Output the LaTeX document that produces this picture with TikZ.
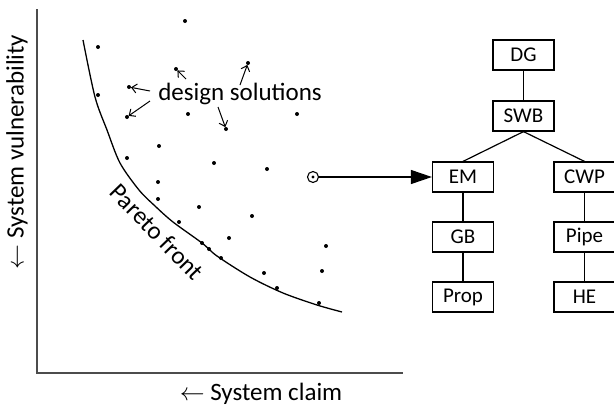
\documentclass[tikz,border=0pt]{standalone}
\usepackage{fontspec}
\setmainfont{Carlito}
\usetikzlibrary{arrows.meta}
\begin{document}
\begin{tikzpicture}[x=1pt,y=-1pt,
  axis/.style={draw=black!70,line width=2pt},
  big/.style={font=\fontsize{25}{30}\selectfont},
  box/.style={draw,line width=1.2pt,minimum width=61pt,minimum height=30pt,inner sep=0pt,font=\fontsize{21}{25}\selectfont},
  tline/.style={line width=1.2pt},
  ann/.style={-{Straight Barb[length=5pt,width=9pt]},line width=1pt,shorten >=2pt}]
\useasboundingbox (0,0) rectangle (614,408);
% axes
\coordinate (o) at (37,373);
\coordinate (yt) at (37,9);
\coordinate (xr) at (403,373);
\draw[axis] (yt) -- (o) -- (xr);
\node[big,rotate=90] (ylab) at (17,152) {$\leftarrow$ System vulnerability};
\node[big] (xlab) at (261,394) {$\leftarrow$ System claim};
% pareto front
\draw[line width=1.3pt] plot[smooth,tension=0.5] coordinates {(83,40) (95,97) (107,130) (120,163) (139,190) (155,206) (173,222) (202,243) (217,256) (250,277) (283,293) (317,305) (342,312)};
\node[big,rotate=-46] (pf) at (157,232) {Pareto front};
% dots
\foreach \p in {(185,21),(98,47),(176,69),(248,63),(129,87),(98,95),(127,117),(188,114),(297,114),(226,129),(159,146),(214,163),(267,169),(127,158),(158,182),(158,199),(199,207),(252,216),(179,222),(202,243),(209,249),(229,238),(221,258),(326,246),(322,271),(264,273),(277,288),(319,303)}
  \fill \p circle (2pt);
\coordinate (de) at (129,87);
\coordinate (dg) at (127,117);
\coordinate (dc) at (176,69);
\coordinate (dd) at (248,63);
\coordinate (dj) at (226,129);
% design solutions
\node[big] (ds) at (240,94) {design solutions};
\coordinate (s1) at (150,91);
\coordinate (s2) at (150,101);
\coordinate (s3) at (186,79);
\coordinate (s4) at (240,85);
\coordinate (s5) at (218,107);
\draw[ann] (s1) -- (de);
\draw[ann] (s2) -- (dg);
\draw[ann] (s3) -- (dc);
\draw[ann] (s4) -- (dd);
\draw[ann] (s5) -- (dj);
% target
\coordinate (tgc) at (313,177);
\draw[line width=1.1pt] (tgc) circle (5.5pt);
\fill (tgc) circle (1.6pt);
% tree
\node[box] (DG) at (523.5,55) {DG};
\node[box] (SWB) at (523.5,116) {SWB};
\node[box] (EM) at (463,177) {EM};
\node[box] (CWP) at (584.5,177) {CWP};
\node[box] (GB) at (463,237) {GB};
\node[box] (Pipe) at (584.5,237) {Pipe};
\node[box] (Prop) at (463,297) {Prop};
\node[box] (HE) at (584.5,297) {HE};
\draw[tline] (DG) -- (SWB);
\draw[tline] (SWB.south) -- (EM.north);
\draw[tline] (SWB.south) -- (CWP.north);
\draw[tline] (EM) -- (GB);
\draw[tline] (GB) -- (Prop);
\draw[tline] (CWP) -- (Pipe);
\draw[tline] (Pipe) -- (HE);
\draw[line width=1.2pt,-{Triangle[length=21pt,width=14pt]},shorten <=5.5pt] (tgc) -- (EM.west);
\end{tikzpicture}
\end{document}
